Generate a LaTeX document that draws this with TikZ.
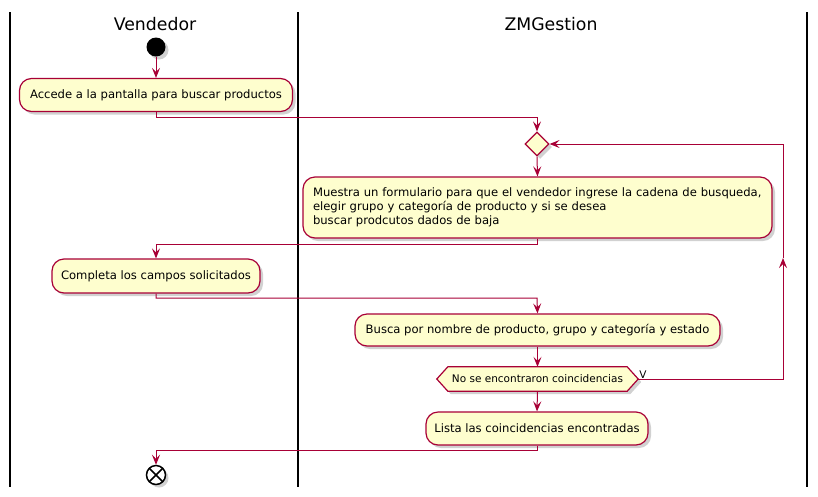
\documentclass[tikz,border=0pt]{standalone}
\usepackage{fontspec}
\setmainfont{DejaVu Sans}
\usetikzlibrary{shapes.geometric,arrows.meta,shadows}
\definecolor{umlred}{HTML}{A80036}
\definecolor{umlfill}{HTML}{FEFECE}
\tikzset{
  shad/.style={drop shadow={shadow xshift=3pt,shadow yshift=-3pt,opacity=0.3,fill=black!60}},
  act/.style={draw=umlred,fill=umlfill,line width=1.2pt,rounded corners=12pt,shad,
    font=\fontsize{11.6}{14}\selectfont,inner sep=0pt,align=center},
  arr/.style={draw=umlred,line width=1pt,-{Stealth[length=10pt,width=8pt,inset=4pt]}},
  lane/.style={line width=1.5pt,black},
  title/.style={font=\fontsize{17.3}{20}\selectfont}
}
\begin{document}
\begin{tikzpicture}[x=1pt,y=-1pt]
\useasboundingbox (0,0) rectangle (818,496);
% lanes
\draw[lane] (10,12) -- (10,487);
\draw[lane] (298,12) -- (298,487);
\draw[lane] (807,12) -- (807,487);
\node[title] (t1) at (155,24) {Vendedor};
\node[title] (t2) at (551,24) {ZMGestion};
% nodes
\node[circle,fill=black,minimum size=19pt,inner sep=0pt,shad] (start) at (156,47) {};
\node[act,minimum width=273pt,minimum height=33pt] (b1) at (156,95) {Accede a la pantalla para buscar productos};
\node[diamond,draw=umlred,fill=umlfill,line width=1.2pt,minimum width=24pt,minimum height=24pt,inner sep=0pt,shad] (diam) at (537,144) {};
\node[act,minimum width=469pt,minimum height=61pt,text width=449pt,align=left] (b2) at (537.5,207.5) {Muestra un formulario para que el vendedor ingrese la cadena de busqueda,\\elegir grupo y categoría de producto y si se desea\\buscar prodcutos dados de baja};
\node[act,minimum width=208pt,minimum height=34pt] (b3) at (156,276) {Completa los campos solicitados};
\node[act,minimum width=365pt,minimum height=32pt] (b4) at (537.5,330) {Busca por nombre de producto, grupo y categoría y estado};
\node[minimum width=201pt,minimum height=24pt,inner sep=0pt] (hex) at (537.5,379) {};
\path[draw=umlred,fill=umlfill,line width=1.2pt,shad] (hex.west) -- ([xshift=11pt]hex.north west) -- ([xshift=-11pt]hex.north east) -- (hex.east) -- ([xshift=-11pt]hex.south east) -- ([xshift=11pt]hex.south west) -- cycle;
\node[font=\fontsize{10.5}{12}\selectfont] (hext) at (hex.center) {No se encontraron coincidencias};
\node[font=\fontsize{10.5}{12}\selectfont,anchor=south west,inner sep=1pt] (vlab) at ([yshift=-1pt]hex.east) {V};
\node[act,minimum width=222pt,minimum height=33pt] (b5) at (537,428.5) {Lista las coincidencias encontradas};
\node[circle,draw=black,fill=white,line width=1.5pt,minimum size=19pt,inner sep=0pt,shad,
  path picture={\draw[line width=1.5pt] ([shift={(-7pt,-7pt)}]path picture bounding box.center) -- ([shift={(7pt,7pt)}]path picture bounding box.center) ([shift={(-7pt,7pt)}]path picture bounding box.center) -- ([shift={(7pt,-7pt)}]path picture bounding box.center);}] (end) at (156,475) {};
% junction coordinates
\coordinate (j1) at (537,117);
\coordinate (j2) at (156,244);
\coordinate (j3) at (537,298);
\coordinate (j4) at (156,450);
\coordinate (l1) at (783,379);
\coordinate (l2) at (783,258);
\coordinate (l3) at (783,144);
% connectors
\draw[arr] (start) -- (b1);
\draw[arr] (b1.south) |- (j1) -- (diam.north);
\draw[arr] (diam.south) -- (b2.north);
\draw[arr] (b2.south) |- (j2) -- (b3.north);
\draw[arr] (b3.south) |- (j3) -- (b4.north);
\draw[arr] (b4.south) -- (hex.north);
\draw[arr] (hex.south) -- (b5.north);
\draw[arr] (b5.south) |- (j4) -- (end.north);
\draw[arr] (hex.east) -- (l1) -- (l2);
\draw[arr] (l2) -- (l3) -- (diam.east);
\end{tikzpicture}
\end{document}
